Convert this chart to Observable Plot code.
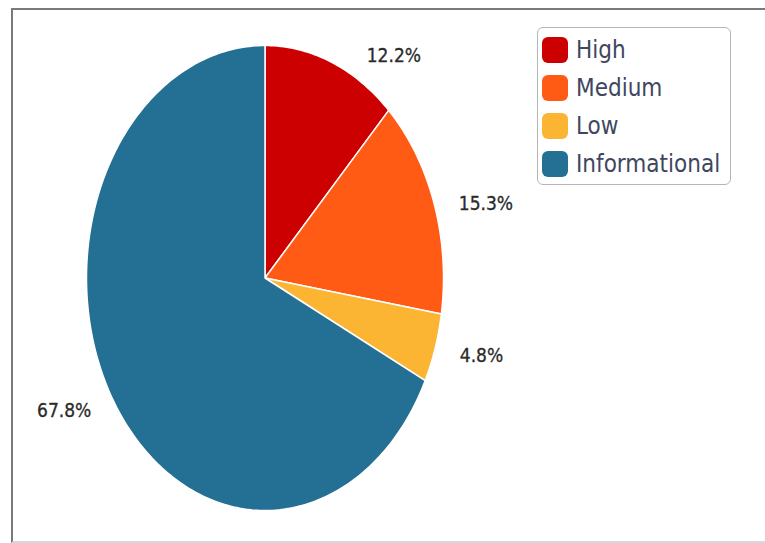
<!DOCTYPE html>
<html>
<head>
<meta charset="utf-8">
<script src="https://cdn.jsdelivr.net/npm/d3@7"></script>
<script src="https://cdn.jsdelivr.net/npm/@observablehq/plot@0.6"></script>
<style>
  html, body { margin: 0; padding: 0; background: #fff; }
  #wrap { position: relative; width: 765px; height: 543px; overflow: hidden; }
  #frame { position: absolute; left: 11px; top: 8px; width: 752px; height: 531px;
           border-top: 2px solid #7a7a7a; border-left: 2px solid #7a7a7a;
           border-right: 1px solid #d8d8d8; border-bottom: 2px solid #d8d8d8; }
  #chart { position: absolute; left: 0; top: 0; }
  #legend { position: absolute; left: 537px; top: 27px; width: 194px; height: 158px;
            border: 1.5px solid #b5b5b5; border-radius: 6px; box-sizing: border-box;
            font-family: "DejaVu Sans Condensed", "DejaVu Sans", sans-serif; font-stretch: condensed;
            font-size: 24px; color: #3e4660; padding-top: 3px; }
  .item { display: flex; align-items: center; height: 38px; }
  .sw { width: 26px; height: 26px; border-radius: 6px; margin-left: 4px; margin-right: 8px; }
</style>
</head>
<body>
<div id="wrap">
  <div id="frame"></div>
  <div id="chart"></div>
  <div id="legend"></div>
</div>
<script>
const categories = ["High", "Medium", "Low", "Informational"];
const values = [12.2, 15.3, 4.8, 67.8];
const labels = ["12.2%", "15.3%", "4.8%", "67.8%"];
const colors = ["#cc0000", "#ff5b14", "#fbb533", "#246f94"];

const pie = d3.pie().sort(null).value(d => d.value).startAngle(0).endAngle(2 * Math.PI);
const arcs = pie(categories.map((c, i) => ({cat: c, value: values[i], label: labels[i]})));

// polygon outline of each slice on the unit circle (scales stretch it into the ellipse)
const pts = [];
for (const a of arcs) {
  const cat = a.data.cat;
  pts.push({cat, x: 0, y: 0});
  const n = Math.max(2, Math.ceil((a.endAngle - a.startAngle) / (Math.PI / 180)));
  for (let k = 0; k <= n; k++) {
    const t = a.startAngle + (a.endAngle - a.startAngle) * k / n;
    pts.push({cat, x: Math.sin(t), y: Math.cos(t)});
  }
  pts.push({cat, x: 0, y: 0});
}

const R = 1.12;
const lab = arcs.map(a => {
  const m = (a.startAngle + a.endAngle) / 2;
  const y = 1.05 * Math.cos(m);
  const s = Math.sin(m) >= 0 ? 1 : -1;
  const x = s * Math.sqrt(Math.max(0, R * R - y * y));
  return {x, y, text: a.data.label, side: s};
});

const font = '"DejaVu Sans Condensed", "DejaVu Sans", sans-serif';
const textOpts = {x: "x", y: "y", text: "text", fontSize: 19, dy: 4, fill: "#2a2a2a", stroke: "#2a2a2a", strokeWidth: 0.3};
const plot = Plot.plot({
  width: 765,
  height: 543,
  marginLeft: 86,
  marginRight: 322,
  marginTop: 45,
  marginBottom: 33,
  x: {domain: [-1, 1], axis: null},
  y: {domain: [-1, 1], axis: null},
  color: {domain: categories, range: colors},
  style: {fontFamily: font, background: "transparent", overflow: "visible"},
  marks: [
    Plot.line(pts, {x: "x", y: "y", z: "cat", fill: "cat", stroke: "#ffffff", strokeWidth: 1.5, strokeLinejoin: "round", curve: "linear"}),
    Plot.text(lab.filter(d => d.side > 0), {...textOpts, textAnchor: "start", dx: 3}),
    Plot.text(lab.filter(d => d.side < 0), {...textOpts, textAnchor: "end"})
  ]
});
document.getElementById("chart").appendChild(plot);

const lg = document.getElementById("legend");
categories.forEach((c, i) => {
  const it = document.createElement("div");
  it.className = "item";
  const sw = document.createElement("div");
  sw.className = "sw";
  sw.style.background = colors[i];
  const tx = document.createElement("span");
  tx.textContent = c;
  it.appendChild(sw);
  it.appendChild(tx);
  lg.appendChild(it);
});
</script>
</body>
</html>
